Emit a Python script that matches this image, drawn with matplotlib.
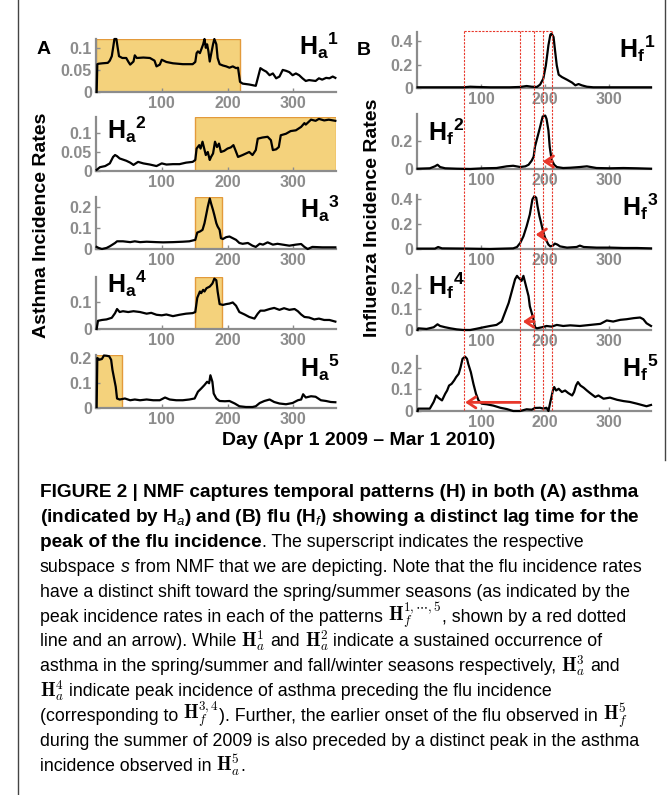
import matplotlib
matplotlib.use('Agg')
import matplotlib.pyplot as plt
from matplotlib import font_manager
from matplotlib.lines import Line2D
from matplotlib.transforms import blended_transform_factory

W, H = 669, 795

plt.rcParams['font.family'] = 'Liberation Sans'
plt.rcParams['mathtext.fontset'] = 'custom'
plt.rcParams['mathtext.rm'] = 'Liberation Sans'
plt.rcParams['mathtext.it'] = 'Liberation Sans:italic'
plt.rcParams['mathtext.bf'] = 'Liberation Sans:bold'

# ---- data: (day, value) ----
ha1 = [(1, 0), (2, 0.063), (4, 0.064), (10, 0.065), (18, 0.066), (21, 0.071), (24, 0.081), (26, 0.1),
       (28, 0.12), (31, 0.12), (33, 0.1), (35, 0.081), (40, 0.077), (46, 0.077), (49, 0.069), (52, 0.062),
       (57, 0.069), (59, 0.083), (62, 0.077), (72, 0.078), (82, 0.077), (89, 0.071), (92, 0.058), (97, 0.062),
       (100, 0.073), (107, 0.068), (117, 0.065), (132, 0.063), (147, 0.063), (151, 0.068), (153, 0.088),
       (155, 0.092), (158, 0.088), (160, 0.096), (163, 0.108), (165, 0.12), (167, 0.1), (169, 0.108),
       (171, 0.092), (173, 0.069), (175, 0.085), (178, 0.108), (180, 0.12), (183, 0.108), (185, 0.077),
       (188, 0.063), (193, 0.06), (198, 0.058), (203, 0.055), (208, 0.058), (213, 0.054), (216, 0.055),
       (219, 0.023), (223, 0.019), (233, 0.017), (243, 0.014), (246, 0.031), (250, 0.054), (254, 0.05),
       (259, 0.046), (264, 0.038), (269, 0.042), (274, 0.031), (279, 0.035), (284, 0.05), (289, 0.048),
       (294, 0.045), (299, 0.038), (304, 0.042), (309, 0.038), (314, 0.031), (319, 0.025), (324, 0.027),
       (334, 0.025), (339, 0.031), (344, 0.028), (350, 0.032), (355, 0.031), (360, 0.035), (364, 0.032)]
ha2 = [(1, 0.003), (6, 0.01), (14, 0.013), (21, 0.02), (26, 0.037), (29, 0.042), (32, 0.039), (36, 0.033),
       (46, 0.027), (52, 0.022), (57, 0.016), (64, 0.024), (72, 0.02), (82, 0.017), (92, 0.013), (100, 0.02),
       (107, 0.017), (117, 0.018), (127, 0.018), (137, 0.022), (147, 0.024), (151, 0.029), (153, 0.059),
       (157, 0.068), (159, 0.059), (162, 0.077), (164, 0.063), (167, 0.042), (170, 0.05), (173, 0.029),
       (175, 0.037), (178, 0.046), (181, 0.077), (184, 0.063), (187, 0.072), (190, 0.05), (195, 0.053),
       (200, 0.059), (205, 0.062), (209, 0.068), (212, 0.055), (216, 0.037), (223, 0.042), (228, 0.046),
       (233, 0.05), (238, 0.042), (243, 0.055), (246, 0.085), (253, 0.088), (261, 0.09), (266, 0.081),
       (269, 0.055), (274, 0.057), (278, 0.063), (281, 0.094), (289, 0.098), (296, 0.105), (304, 0.107),
       (312, 0.116), (317, 0.126), (319, 0.122), (327, 0.135), (334, 0.132), (339, 0.137), (347, 0.133),
       (354, 0.135), (364, 0.132)]
ha3 = [(1, 0.01), (4, 0.005), (9, 0), (16, 0.005), (21, 0.013), (29, 0.029), (32, 0.037), (41, 0.037),
       (52, 0.033), (59, 0.037), (67, 0.033), (77, 0.035), (92, 0.033), (102, 0.032), (117, 0.033),
       (132, 0.035), (142, 0.037), (151, 0.044), (154, 0.079), (158, 0.084), (162, 0.092), (165, 0.124),
       (168, 0.171), (170, 0.203), (173, 0.243), (175, 0.219), (178, 0.187), (180, 0.163), (183, 0.124),
       (185, 0.108), (188, 0.092), (190, 0.052), (193, 0.048), (198, 0.057), (203, 0.06), (208, 0.052),
       (213, 0.044), (218, 0.029), (223, 0.025), (231, 0.029), (238, 0.016), (243, 0.01), (249, 0.025),
       (254, 0.021), (261, 0.032), (269, 0.021), (276, 0.025), (284, 0.021), (294, 0.016), (304, 0.021),
       (312, 0.024), (317, 0.01), (322, 0), (329, 0.01), (344, 0.008), (364, 0.008)]
ha4 = [(1, 0), (3, 0.03), (9, 0.033), (16, 0.035), (24, 0.041), (29, 0.058), (32, 0.073), (36, 0.062),
       (41, 0.065), (49, 0.062), (57, 0.065), (67, 0.062), (77, 0.056), (84, 0.059), (92, 0.052), (100, 0.05),
       (107, 0.053), (117, 0.047), (127, 0.052), (137, 0.056), (147, 0.058), (151, 0.062), (154, 0.114),
       (158, 0.137), (160, 0.131), (163, 0.143), (165, 0.137), (168, 0.149), (173, 0.155), (177, 0.166),
       (180, 0.184), (183, 0.178), (185, 0.137), (188, 0.091), (193, 0.088), (198, 0.091), (203, 0.093),
       (208, 0.097), (213, 0.085), (218, 0.062), (226, 0.053), (233, 0.044), (241, 0.038), (246, 0.056),
       (250, 0.067), (256, 0.067), (264, 0.073), (271, 0.077), (279, 0.07), (286, 0.076), (294, 0.07),
       (302, 0.073), (307, 0.065), (312, 0.053), (317, 0.044), (324, 0.042), (332, 0.035), (339, 0.038),
       (347, 0.033), (355, 0.033), (364, 0.027)]
ha5 = [(1, 0.004), (2, 0.2), (5, 0.193), (9, 0.196), (12, 0.21), (16, 0.209), (20, 0.207), (23, 0.193),
       (25, 0.153), (28, 0.112), (30, 0.085), (32, 0.038), (36, 0.034), (44, 0.038), (52, 0.031), (59, 0.034),
       (67, 0.031), (77, 0.034), (87, 0.031), (97, 0.031), (105, 0.042), (112, 0.034), (122, 0.031),
       (132, 0.031), (142, 0.034), (150, 0.038), (155, 0.065), (160, 0.078), (165, 0.092), (169, 0.105),
       (172, 0.099), (174, 0.131), (177, 0.105), (179, 0.058), (183, 0.038), (188, 0.028), (196, 0.027),
       (203, 0.028), (211, 0.018), (218, 0.007), (228, 0.004), (238, 0.004), (243, 0.007), (249, 0.02),
       (256, 0.028), (264, 0.034), (271, 0.024), (279, 0.018), (289, 0.015), (299, 0.02), (307, 0.031),
       (312, 0.034), (315, 0.055), (319, 0.042), (327, 0.047), (334, 0.045), (342, 0.031), (350, 0.028),
       (357, 0.024), (364, 0.023)]

hf1 = [(1, 0.006), (72, 0.006), (83, 0.011), (93, 0.009), (114, 0.006), (145, 0.006), (161, 0.009),
       (171, 0.017), (179, 0.011), (187, 0.009), (192, 0.029), (197, 0.08), (201, 0.194), (205, 0.366),
       (208, 0.457), (210, 0.466), (213, 0.437), (215, 0.337), (218, 0.194), (221, 0.114), (226, 0.094),
       (234, 0.071), (242, 0.046), (247, 0.023), (252, 0.034), (257, 0.023), (265, 0.011), (275, 0.006),
       (301, 0.006), (365, 0.006)]
hf2 = [(1, 0.002), (20, 0.005), (28, 0.019), (32, 0.03), (36, 0.014), (44, 0.005), (62, 0.002), (83, 0),
       (104, 0.005), (124, 0.007), (140, 0.019), (150, 0.023), (161, 0.014), (169, 0.019), (174, 0.03),
       (179, 0.06), (182, 0.088), (184, 0.158), (188, 0.228), (192, 0.298), (196, 0.372), (200, 0.379),
       (202, 0.356), (205, 0.274), (207, 0.158), (210, 0.065), (214, 0.03), (218, 0.014), (228, 0.007),
       (239, 0.009), (254, 0.014), (265, 0.019), (280, 0.007), (301, 0.005), (322, 0.007), (343, 0.005),
       (365, 0.002)]
hf3 = [(1, 0.003), (28, 0.003), (33, 0.016), (39, 0.005), (78, 0.003), (114, 0), (150, 0.005), (156, 0.016),
       (161, 0.048), (166, 0.101), (171, 0.181), (176, 0.275), (180, 0.395), (183, 0.421), (186, 0.408),
       (188, 0.341), (191, 0.261), (193, 0.221), (196, 0.155), (199, 0.101), (201, 0.075), (205, 0.035),
       (208, 0.021), (212, 0.027), (215, 0.043), (219, 0.035), (223, 0.021), (234, 0.011), (249, 0.016),
       (254, 0.027), (260, 0.016), (280, 0.011), (301, 0.011), (322, 0.008), (343, 0.008), (365, 0.005)]
hf4 = [(1, 0), (2, 0.008), (15, 0.005), (26, 0.013), (32, 0.027), (36, 0.019), (44, 0.013), (52, 0.008),
       (62, 0.003), (72, 0), (83, 0), (93, 0.006), (104, 0.013), (114, 0.019), (124, 0.024), (132, 0.04),
       (137, 0.08), (143, 0.128), (148, 0.184), (153, 0.24), (156, 0.256), (158, 0.248), (161, 0.24),
       (163, 0.232), (166, 0.256), (170, 0.208), (174, 0.16), (176, 0.112), (179, 0.08), (182, 0.048),
       (184, 0.013), (187, 0.008), (195, 0.013), (202, 0.019), (210, 0.016), (218, 0.024), (228, 0.019),
       (239, 0.022), (254, 0.019), (270, 0.024), (286, 0.029), (296, 0.045), (306, 0.04), (317, 0.048),
       (327, 0.051), (338, 0.056), (348, 0.059), (353, 0.051), (358, 0.032), (365, 0.019)]
hf5 = [(1, 0), (2, 0.011), (20, 0.011), (26, 0.042), (30, 0.072), (33, 0.062), (39, 0.049), (44, 0.08),
       (47, 0.095), (50, 0.118), (54, 0.126), (58, 0.142), (61, 0.157), (65, 0.172), (68, 0.203), (71, 0.242),
       (75, 0.252), (78, 0.242), (80, 0.218), (84, 0.18), (88, 0.126), (92, 0.08), (96, 0.049), (101, 0.034),
       (109, 0.031), (119, 0.025), (130, 0.015), (140, 0.009), (150, 0), (161, 0), (171, 0.008), (179, 0.006),
       (184, 0.014), (192, 0.015), (197, 0.011), (202, 0.015), (205, 0), (208, 0.042), (212, 0.095),
       (214, 0.111), (217, 0.095), (221, 0.103), (226, 0.088), (231, 0.095), (236, 0.083), (242, 0.072),
       (245, 0.088), (248, 0.118), (251, 0.134), (255, 0.118), (260, 0.108), (265, 0.095), (270, 0.083),
       (278, 0.065), (283, 0.072), (291, 0.057), (301, 0.062), (312, 0.052), (322, 0.046), (332, 0.042),
       (343, 0.034), (353, 0.026), (358, 0.022), (365, 0.028)]

asthma = [ha1, ha2, ha3, ha4, ha5]
flu = [hf1, hf2, hf3, hf4, hf5]

# shaded day windows in the asthma panels
asthma_spans = [(0, 219), (151, 365), (151, 192), (151, 192), (0, 40)]
# peak days marked by red dotted lines
peak_days = [74, 161, 183, 197, 211]
# red arrows per flu panel: (from day, to day, height)
arrows = [None, (211, 196, 0.053), (197, 185, 0.115), (183, 165, 0.04), (161, 75, 0.04)]

a_ylim = [0.12, 0.142, 0.25, 0.19, 0.212]
a_yticks = [[0, 0.05, 0.1], [0, 0.05, 0.1], [0, 0.1, 0.2], [0, 0.1], [0, 0.1, 0.2]]
a_ylabels = [['0', '0.05', '0.1'], ['0', '0.05', '0.1'], ['0', '0.1', '0.2'], ['0', '0.1'], ['0', '0.1', '0.2']]
f_ylim = [0.48, 0.39, 0.43, 0.26, 0.255]
f_yticks = [[0, 0.2, 0.4], [0, 0.2], [0, 0.2, 0.4], [0, 0.1, 0.2], [0, 0.1, 0.2]]
f_ylabels = [['0', '0.2', '0.4'], ['0', '0.2'], ['0', '0.2', '0.4'], ['0', '0.1', '0.2'], ['0', '0.1', '0.2']]
xticks = [100, 200, 300]

RED = '#e8372a'
GRAY = '#8c8c8c'

fig = plt.figure(figsize=(W / 100, H / 100), dpi=100)


def px_axes(x0, y0, x1, y1):
    return fig.add_axes([x0 / W, 1 - y1 / H, (x1 - x0) / W, (y1 - y0) / H])


def style(ax, top, yt, yl):
    ax.set_xlim(0, 365)
    ax.set_ylim(0, top)
    for s in ['top', 'right']:
        ax.spines[s].set_visible(False)
    for s in ['left', 'bottom']:
        ax.spines[s].set_color(GRAY)
        ax.spines[s].set_linewidth(1.6)
    ax.set_xticks(xticks)
    ax.set_xticklabels([str(t) for t in xticks], fontweight='bold')
    ax.set_yticks(yt)
    ax.set_yticklabels(yl, fontweight='bold')
    ax.tick_params(direction='in', length=3, width=1, color=GRAY, labelcolor=GRAY,
                   labelsize=11.5, pad=3)
    ax.patch.set_alpha(0)


left_rows = [(39, 92), (117, 171), (197, 249), (277, 329), (355, 408)]
right_rows = [(32, 88), (114, 169), (195, 249), (275, 330), (356, 411)]

axA, axB = [], []
for i in range(5):
    ax = px_axes(96, left_rows[i][0], 336, left_rows[i][1])
    style(ax, a_ylim[i], a_yticks[i], a_ylabels[i])
    a, b = asthma_spans[i]
    ax.axvspan(a, b, facecolor='#f4d27c', edgecolor='#e39a3b', lw=1, zorder=1)
    d, v = zip(*asthma[i])
    ax.plot(d, v, color='k', lw=1.6, zorder=4, clip_on=False)
    axA.append(ax)

for i in range(5):
    ax = px_axes(417, right_rows[i][0], 651, right_rows[i][1])
    style(ax, f_ylim[i], f_yticks[i], f_ylabels[i])
    d, v = zip(*flu[i])
    ax.plot(d, v, color='k', lw=1.6, zorder=4, clip_on=False)
    if arrows[i] is not None:
        x0, x1, yy = arrows[i]
        ax.annotate('', xy=(x1, yy), xytext=(x0, yy),
                    arrowprops=dict(arrowstyle='->,head_length=0.6,head_width=0.4', color=RED,
                                    lw=2, shrinkA=0, shrinkB=0), zorder=6)
    axB.append(ax)

# red dotted markers spanning all flu panels
tr = blended_transform_factory(axB[0].transData, fig.transFigure)
ytop, ybot = 1 - 31 / H, 1 - 411 / H
for d in peak_days:
    fig.add_artist(Line2D([d, d], [ytop, ybot], transform=tr, color=RED, lw=0.8,
                          linestyle=(0, (2, 1.2))))
fig.add_artist(Line2D([peak_days[0], peak_days[-1]], [ytop, ytop], transform=tr, color=RED,
                      lw=0.8, linestyle=(0, (2, 1.2))))

# panel tags
a_tags = [(299, 55), (107, 139), (300, 218), (107, 293), (300, 377)]
f_tags = [(619, 58), (428, 141), (622, 216), (428, 295), (622, 377)]
for i in range(5):
    x, y = a_tags[i]
    fig.text(x / W, 1 - y / H, r'$\mathbf{H}_\mathbf{a}{}^\mathbf{%d}$' % (i + 1), fontsize=18,
             ha='left', va='baseline')
    x, y = f_tags[i]
    fig.text(x / W, 1 - y / H, r'$\mathbf{H}_\mathbf{f}{}^\mathbf{%d}$' % (i + 1), fontsize=18,
             ha='left', va='baseline')

fig.text(37 / W, 1 - 54 / H, 'A', fontsize=14, weight='bold', va='baseline')
fig.text(357 / W, 1 - 55 / H, 'B', fontsize=14, weight='bold', va='baseline')
fig.text(42 / W, 1 - 225 / H, 'Asthma Incidence Rates', rotation=90, fontsize=14, weight='bold',
         ha='center', va='center')
fig.text(372 / W, 1 - 218 / H, 'Influenza Incidence Rates', rotation=90, fontsize=14, weight='bold',
         ha='center', va='center')
fig.text(359 / W, 1 - 445 / H, 'Day (Apr 1 2009 \u2013 Mar 1 2010)', fontsize=14, weight='bold',
         ha='center', va='baseline')

# frame lines
fig.add_artist(Line2D([18 / W, 18 / W], [0, 1], color='#444444', lw=1, transform=fig.transFigure))
fig.add_artist(Line2D([665 / W, 665 / W], [1 - 460 / H, 1], color='#444444', lw=1,
                      transform=fig.transFigure))

# ---- caption ----
names = {f.name for f in font_manager.fontManager.ttflist}
cap_family = 'Liberation Sans Narrow' if 'Liberation Sans Narrow' in names else 'Liberation Sans'
renderer = fig.canvas.get_renderer()


def width_of(s, **kw):
    t = fig.text(0, 0, s, **kw)
    w = t.get_window_extent(renderer).width
    t.remove()
    return w


line4 = 'subspace s from NMF that we are depicting. Note that the flu incidence rates'
line1 = 'FIGURE 2 | NMF captures temporal patterns (H) in both (A) asthma'
reg_size = 10 * 605 / width_of(line4, fontsize=10, family=cap_family)
bold_size = 10 * 598 / width_of(line1, fontsize=10, family=cap_family, weight='bold')

R = dict(fontsize=reg_size, family=cap_family)
B = dict(fontsize=bold_size, family=cap_family, weight='bold')
I = dict(fontsize=reg_size, family=cap_family, style='italic')
M = dict(fontsize=reg_size * 1.05, math_fontfamily='cm')

cap_lines = [
    [(line1, B)],
    [('(indicated by H$_{a}$) and (B) flu (H$_{f}$) showing a distinct lag time for the', B)],
    [('peak of the flu incidence', B), ('. The superscript indicates the respective', R)],
    [('subspace ', R), ('s', I), (' from NMF that we are depicting. Note that the flu incidence rates', R)],
    [('have a distinct shift toward the spring/summer seasons (as indicated by the', R)],
    [('peak incidence rates in each of the patterns ', R), (r'$\mathbf{H}_f^{1,\cdots,5}$', M),
     (', shown by a red dotted', R)],
    [('line and an arrow). While ', R), (r'$\mathbf{H}_a^1$', M), (' and ', R), (r'$\mathbf{H}_a^2$', M),
     (' indicate a sustained occurrence of', R)],
    [('asthma in the spring/summer and fall/winter seasons respectively, ', R), (r'$\mathbf{H}_a^3$', M),
     (' and', R)],
    [(r'$\mathbf{H}_a^4$', M), (' indicate peak incidence of asthma preceding the flu incidence', R)],
    [('(corresponding to ', R), (r'$\mathbf{H}_f^{3,4}$', M),
     ('). Further, the earlier onset of the flu observed in ', R), (r'$\mathbf{H}_f^5$', M)],
    [('during the summer of 2009 is also preceded by a distinct peak in the asthma', R)],
    [('incidence observed in ', R), (r'$\mathbf{H}_a^5$', M), ('.', R)],
]

space_w = width_of('a a', **R) - width_of('aa', **R)
for k, parts in enumerate(cap_lines):
    x = 40
    y = 497 + k * 24.9
    for s, kw in parts:
        core = s.strip()
        x += (len(s) - len(s.lstrip())) * space_w
        t = fig.text(x / W, 1 - y / H, core, ha='left', va='baseline', **kw)
        x += t.get_window_extent(renderer).width
        x += (len(s) - len(s.rstrip())) * space_w

fig.savefig('out.png', dpi=100)
